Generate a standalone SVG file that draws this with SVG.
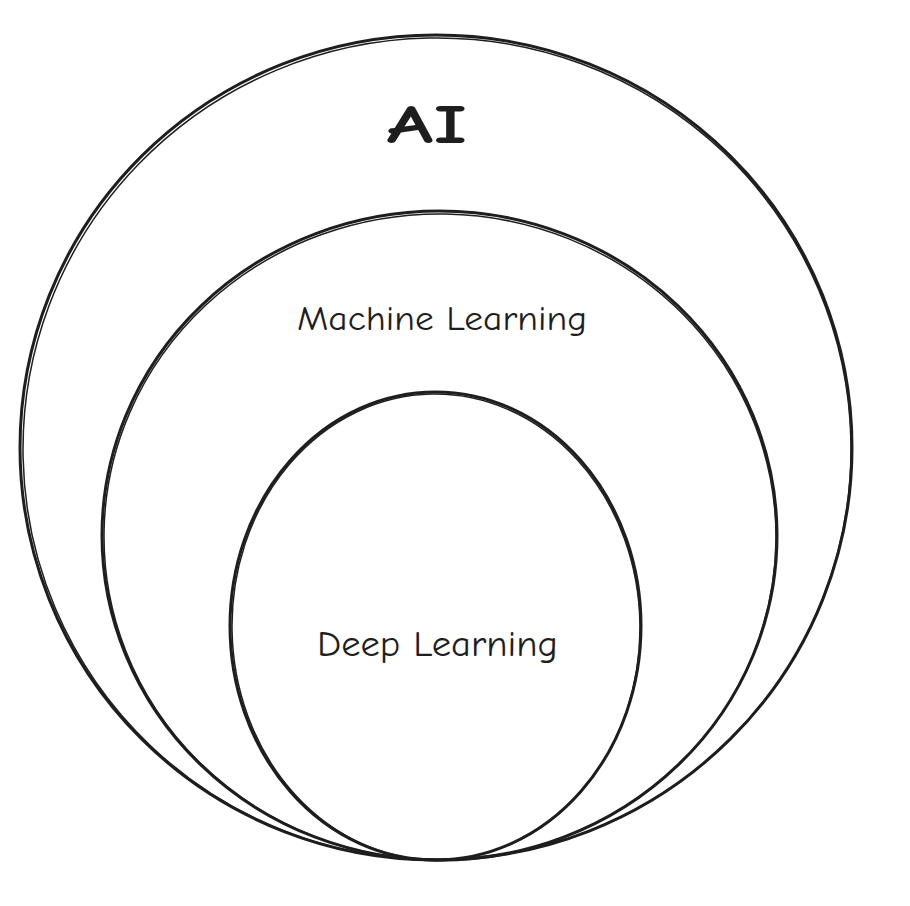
<svg xmlns="http://www.w3.org/2000/svg" width="910" height="906" viewBox="0 0 910 906">
  <style>
    .shape { fill: none; stroke: #1e1e1e; stroke-width: 3; stroke-linecap: round; }
    .sketch { fill: none; stroke: #1e1e1e; stroke-width: 1.5; stroke-linecap: round; }
    .label { fill: #1e1e1e; font-family: "Comic Neue", "Liberation Sans", Arial, sans-serif; text-anchor: middle; }
  </style>
  <rect width="910" height="906" fill="#ffffff"/>
  <g id="ai">
    <ellipse class="shape" cx="436" cy="447.5" rx="416" ry="412.5"/>
    <ellipse class="sketch" cx="437" cy="449" rx="414" ry="411" transform="rotate(-1.2 437 449)"/>
    <text class="label" x="427" y="143" font-size="55" font-weight="bold" textLength="81" lengthAdjust="spacingAndGlyphs">AI</text>
  </g>
  <g id="machine-learning">
    <ellipse class="shape" cx="439.5" cy="535.5" rx="337.5" ry="324.5"/>
    <ellipse class="sketch" cx="440" cy="537" rx="336" ry="323" transform="rotate(1 440 537)"/>
    <text class="label" x="442" y="330" font-size="34" textLength="290" lengthAdjust="spacingAndGlyphs">Machine Learning</text>
  </g>
  <g id="deep-learning">
    <ellipse class="shape" cx="435.5" cy="626" rx="205.5" ry="234"/>
    <ellipse class="sketch" cx="436" cy="627" rx="204" ry="233" transform="rotate(-1 436 627)"/>
    <text class="label" x="437.5" y="656" font-size="36" textLength="241" lengthAdjust="spacingAndGlyphs">Deep Learning</text>
  </g>
  <g id="connectors"></g>
</svg>
